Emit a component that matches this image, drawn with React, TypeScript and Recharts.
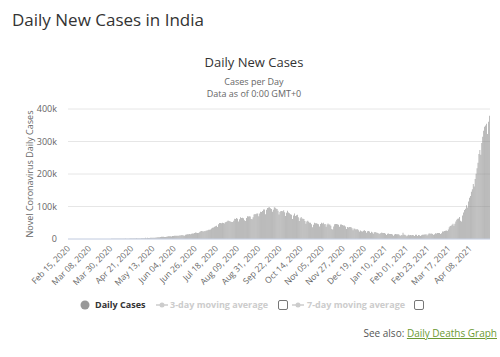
import React from 'react';
import { BarChart, Bar, XAxis, YAxis, CartesianGrid } from 'recharts';

// daily new cases (Feb 15, 2020 -> Apr 28, 2021)
const feb2020 = [0, 0, 0, 0, 0, 0, 0, 0, 0, 0, 0, 0, 0, 0, 0];
const mar2020 = [0, 2, 1, 22, 2, 1, 3, 5, 9, 15, 8, 10, 10, 25, 27, 58, 11, 37, 79, 78, 150, 64, 108, 85, 87, 75, 153, 108, 227, 146, 601];
const apr2020 = [545, 478, 601, 525, 505, 704, 508, 485, 591, 896, 768, 918, 705, 1463, 1118, 826, 1076, 991, 1334, 1553, 1336, 1383, 1409, 1684, 1429, 1990, 1396, 1543, 1897, 1718];
const may2020 = [1993, 2644, 2487, 2573, 3875, 2680, 3561, 3390, 3320, 4213, 3604, 3524, 3763, 3722, 3967, 4987, 4970, 5242, 5611, 5609, 6088, 6654, 6767, 6977, 6535, 6387, 6566, 7466, 8380, 8171, 8392];
const jun2020 = [7761, 8909, 9304, 9851, 9887, 9971, 9983, 9987, 9985, 11458, 10956, 11929, 11502, 10667, 10032, 12881, 13586, 14516, 14933, 15413, 14821, 15968, 16922, 17296, 18552, 19906, 19459, 18522, 18653, 20903];
const jul2020 = [22771, 24850, 24248, 22252, 24879, 24015, 25571, 26506, 27114, 28637, 28701, 29429, 32607, 34956, 35468, 37407, 38902, 40425, 37148, 45601, 48916, 49310, 48661, 49981, 48931, 47703, 51632, 52479, 54966, 57118, 55079];
const aug2020 = [54735, 52972, 52050, 52509, 56282, 62538, 61537, 64399, 62064, 53601, 60963, 66999, 64553, 65002, 63490, 57981, 55079, 64531, 69652, 68900, 69878, 69239, 61408, 60975, 67151, 75760, 77266, 76472, 78761, 78512, 69921];
const sep2020 = [78357, 83883, 83341, 86432, 90632, 90802, 75809, 89706, 95735, 96551, 97570, 94372, 92071, 83809, 90123, 97894, 96424, 93337, 92605, 86961, 75083, 83347, 86508, 86052, 85362, 88600, 82170, 70589, 80472, 86821];
const oct2020 = [81484, 79476, 75829, 74442, 61267, 72049, 78524, 70496, 73272, 74383, 66732, 55342, 63509, 67708, 63371, 62212, 61871, 55722, 46790, 54044, 55839, 53370, 50129, 50356, 45148, 36469, 43893, 49881, 48648, 48268, 46963];
const nov2020 = [45231, 38310, 46254, 50210, 47638, 50357, 45674, 45903, 38073, 44281, 47905, 44879, 44878, 41100, 30548, 29164, 38617, 45576, 45882, 46232, 45209, 44059, 37975, 44376, 44489, 43082, 41322, 41810, 38772, 31118];
const dec2020 = [36604, 35551, 36595, 36652, 36011, 32981, 26567, 32080, 31521, 29398, 30006, 30254, 27071, 22065, 26382, 24010, 22889, 25153, 26624, 24337, 19556, 23950, 24712, 23067, 18732, 22273, 20021, 16432, 20550, 21821, 20036];
const jan2021 = [19079, 18177, 16504, 16375, 18088, 20346, 18139, 18222, 18645, 16311, 12584, 15968, 16946, 15590, 15158, 15144, 13788, 10064, 13823, 15223, 14545, 14256, 14849, 13203, 9102, 12689, 11666, 18855, 13083, 13052, 11427];
const feb2021 = [8635, 11039, 12899, 11713, 12408, 11713, 12059, 11831, 9110, 12923, 12923, 9309, 12143, 11649, 9121, 11610, 12881, 13193, 13993, 13993, 14264, 10584, 13742, 16738, 16577, 16488, 16752, 15510];
const mar2021 = [12286, 14989, 17407, 16838, 18327, 18711, 18599, 15388, 17921, 22854, 23285, 24882, 25320, 26291, 24492, 28903, 35871, 39726, 40953, 43846, 46951, 40715, 47262, 53476, 59118, 62258, 62714, 68020, 56211, 53480, 72330];
const apr2021 = [81466, 89129, 93249, 103558, 96982, 115736, 126789, 131968, 145384, 152879, 168912, 161736, 184372, 200739, 217353, 234692, 261500, 273810, 259170, 295041, 314835, 332730, 345147, 349313, 354658, 323144, 360927, 379308];

const dailyCases = [
  ...feb2020, ...mar2020, ...apr2020, ...may2020, ...jun2020, ...jul2020, ...aug2020,
  ...sep2020, ...oct2020, ...nov2020, ...dec2020, ...jan2021, ...feb2021, ...mar2021, ...apr2021,
];

const tickLabels = [
  'Feb 15, 2020', 'Mar 08, 2020', 'Mar 30, 2020', 'Apr 21, 2020', 'May 13, 2020',
  'Jun 04, 2020', 'Jun 26, 2020', 'Jul 18, 2020', 'Aug 09, 2020', 'Aug 31, 2020',
  'Sep 22, 2020', 'Oct 14, 2020', 'Nov 05, 2020', 'Nov 27, 2020', 'Dec 19, 2020',
  'Jan 10, 2021', 'Feb 01, 2021', 'Feb 23, 2021', 'Mar 17, 2021', 'Apr 08, 2021',
];
const yTicks = [0, 100000, 200000, 300000, 400000];

const MONTHS = ['Jan', 'Feb', 'Mar', 'Apr', 'May', 'Jun', 'Jul', 'Aug', 'Sep', 'Oct', 'Nov', 'Dec'];
const START = Date.UTC(2020, 1, 15);

const fmtDate = (i: number) => {
  const d = new Date(START + i * 86400000);
  return `${MONTHS[d.getUTCMonth()]} ${String(d.getUTCDate()).padStart(2, '0')}, ${d.getUTCFullYear()}`;
};

const chartData = dailyCases.map((cases, i) => ({ date: fmtDate(i), cases }));

const FONT = '"Open Sans", "Noto Sans", sans-serif';

const DateTick = (props: any) => {
  const { x, y, payload } = props;
  return (
    <g opacity={0.99}>
      <text
        x={x}
        y={y}
        dy={3}
        textAnchor="end"
        transform={`rotate(-45, ${x}, ${y})`}
        fontSize={8.5}
        fontFamily={FONT}
        fill="#666"
      >
        {payload.value}
      </text>
    </g>
  );
};

const Checkbox = ({ left }: { left: number }) => (
  <div
    style={{
      position: 'absolute', left, top: 300, width: 8, height: 8,
      border: '1px solid #777', borderRadius: 2, background: '#fff',
    }}
  />
);

const LineSymbol = ({ left }: { left: number }) => (
  <svg style={{ position: 'absolute', left, top: 300 }} width={12} height={10}>
    <line x1={0} y1={5} x2={12} y2={5} stroke="#ccc" strokeWidth={1.5} />
    <circle cx={6} cy={5} r={2.5} fill="#ccc" />
  </svg>
);

export default function App() {
  return (
    <div style={{ position: 'absolute', left: 0, top: 0, width: 500, height: 357, background: '#fff', fontFamily: FONT }}>
      <div style={{ position: 'absolute', left: 12, top: 8, fontSize: 17, color: '#333' }}>
        Daily New Cases in India
      </div>
      <div style={{ position: 'absolute', left: 0, width: 508, top: 53, textAlign: 'center', fontSize: 13, color: '#333' }}>
        Daily New Cases
      </div>
      <div style={{ position: 'absolute', left: 0, width: 508, top: 76, textAlign: 'center', fontSize: 9, lineHeight: '12px', color: '#666' }}>
        Cases per Day<br />Data as of 0:00 GMT+0
      </div>
      <div
        style={{
          position: 'absolute', left: 29, top: 174, fontSize: 9, color: '#666', whiteSpace: 'nowrap',
          transform: 'translate(-50%, -50%) rotate(-90deg)',
        }}
      >
        Novel Coronavirus Daily Cases
      </div>

      <BarChart
        width={500}
        height={357}
        data={chartData}
        margin={{ top: 109, right: 10, bottom: 68, left: 0 }}
        barCategoryGap="20%"
      >
        <CartesianGrid vertical={false} stroke="#e6e6e6" />
        <XAxis
          dataKey="date"
          ticks={tickLabels}
          interval={0}
          height={50}
          tickLine={false}
          axisLine={{ stroke: '#ccd6eb' }}
          tick={<DateTick />}
        />
        <YAxis
          width={68}
          domain={[0, 400000]}
          ticks={yTicks}
          axisLine={false}
          tickLine={false}
          tickMargin={5}
          tickFormatter={(v: number) => (v === 0 ? '0' : `${v / 1000}k`)}
          tick={{ fontSize: 9, fill: '#666', fontFamily: FONT }}
        />
        <Bar dataKey="cases" fill="#8a8a8a" isAnimationActive={false} />
      </BarChart>

      {/* legend */}
      <svg style={{ position: 'absolute', left: 80, top: 300 }} width={10} height={10}>
        <circle cx={5} cy={5} r={4.5} fill="#999" />
      </svg>
      <div style={{ position: 'absolute', left: 95, top: 298, fontSize: 9, fontWeight: 700, color: '#333' }}>Daily Cases</div>
      <LineSymbol left={156} />
      <div style={{ position: 'absolute', left: 170, top: 298, fontSize: 9, fontWeight: 700, color: '#ccc' }}>3-day moving average</div>
      <Checkbox left={278} />
      <LineSymbol left={292} />
      <div style={{ position: 'absolute', left: 307, top: 298, fontSize: 9, fontWeight: 700, color: '#ccc' }}>7-day moving average</div>
      <Checkbox left={414} />

      <div style={{ position: 'absolute', right: 3, top: 326, fontSize: 10, color: '#555' }}>
        See also: <span style={{ color: '#6c9a33', textDecoration: 'underline' }}>Daily Deaths Graph</span>
      </div>
    </div>
  );
}
